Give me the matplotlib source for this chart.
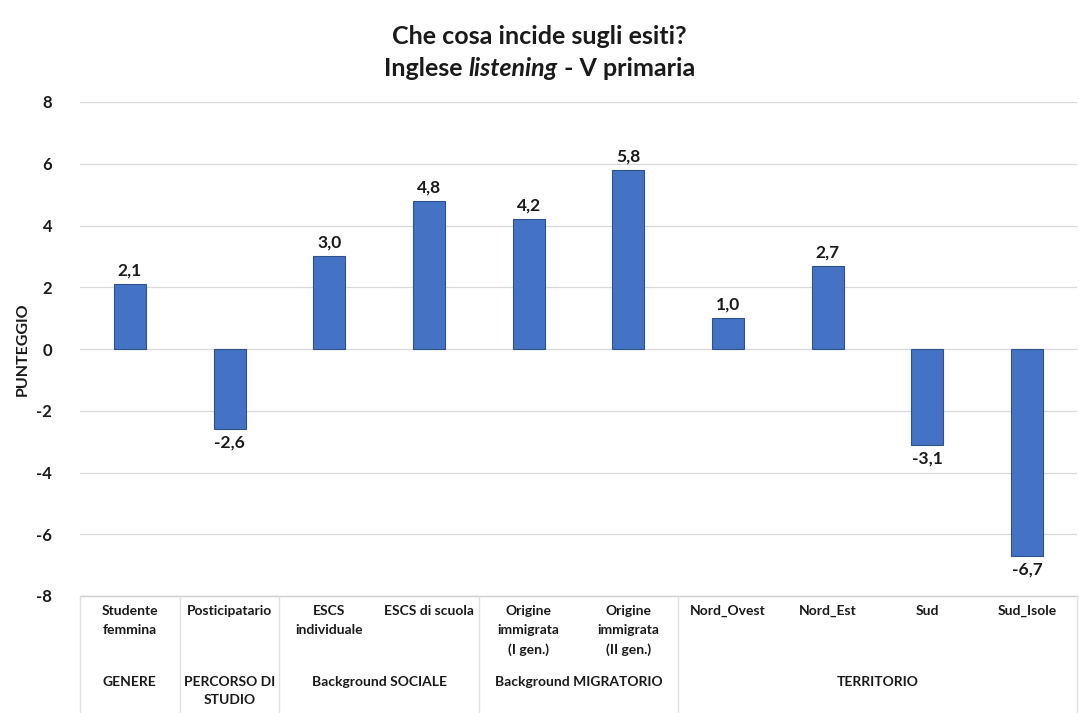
import numpy as np
import matplotlib; matplotlib.use("Agg")
import matplotlib.pyplot as plt
import matplotlib.transforms as mtransforms

# data
categories = ["Studente\nfemmina", "Posticipatario", "ESCS\nindividuale", "ESCS di scuola",
              "Origine\nimmigrata\n(I gen.)", "Origine\nimmigrata\n(II gen.)",
              "Nord_Ovest", "Nord_Est", "Sud", "Sud_Isole"]
values = [2.1, -2.6, 3.0, 4.8, 4.2, 5.8, 1.0, 2.7, -3.1, -6.7]
groups = ["GENERE", "PERCORSO DI\nSTUDIO", "Background SOCIALE", "Background MIGRATORIO", "TERRITORIO"]
group_sizes = [1, 1, 2, 2, 4]

plt.rcParams["font.family"] = ["Lato", "DejaVu Sans"]
plt.rcParams["font.weight"] = "bold"
INK = "#1a1a1a"

fig = plt.figure(figsize=(10.79, 7.13), dpi=100)
ax = fig.add_axes([80/1079, 1-596/713, 997/1079, 494/713])

x = np.arange(len(values))
ax.bar(x, values, width=0.32, color="#4472C4", edgecolor="#2F528F", linewidth=0.8, zorder=3)
for xi, v in zip(x, values):
    txt = f"{v:.1f}".replace(".", ",")
    if v >= 0:
        ax.annotate(txt, (xi, v), xytext=(0, 4), textcoords="offset points", ha="center", va="bottom",
                    fontsize=12.5, fontweight="bold", color=INK)
    else:
        ax.annotate(txt, (xi, v), xytext=(0, -4), textcoords="offset points", ha="center", va="top",
                    fontsize=12.5, fontweight="bold", color=INK)

ax.set_xlim(-0.5, len(values) - 0.5)
ax.set_ylim(-8, 8)
ax.set_yticks(np.arange(-8, 9, 2))
ax.set_yticklabels([str(t) for t in range(-8, 9, 2)], fontsize=12, fontweight="bold", color=INK)
ax.tick_params(axis="y", length=0, pad=20)
ax.set_xticks([])
ax.grid(axis="y", color="#d9d9d9", lw=0.9, zorder=0)
for s in ax.spines.values():
    s.set_visible(False)
ax.set_ylabel("PUNTEGGIO", fontsize=11.5, fontweight="bold", color=INK)
ax.yaxis.set_label_coords(-50/997, 0.5)

# category table under the axis
tr = mtransforms.blended_transform_factory(ax.transData, ax.transAxes)
tab_h = -116/494
ax.plot([-0.5, len(values) - 0.5], [0, 0], transform=tr, color="#d0d0d0", lw=1, clip_on=False)
edges = np.concatenate([[0], np.cumsum(group_sizes)]) - 0.5
for e in edges:
    ax.plot([e, e], [0, tab_h], transform=tr, color="#e0e0e0", lw=1, clip_on=False)
for xi, c in zip(x, categories):
    ax.text(xi, -9/494, c, transform=tr, ha="center", va="top", fontsize=10, fontweight="bold",
            color=INK, linespacing=1.7)
for i, g in enumerate(groups):
    cx = (edges[i] + edges[i + 1]) / 2
    ax.text(cx, -80/494, g, transform=tr, ha="center", va="top", fontsize=10, fontweight="bold",
            color=INK, linespacing=1.6)

# title with italic word
fig.text(0.5, 1 - 36/713, "Che cosa incide sugli esiti?", ha="center", va="center",
         fontsize=18, fontweight="bold", color=INK)
parts = [("Inglese ", "normal"), ("listening", "italic"), (" - V primaria", "normal")]
texts = [fig.text(0, 1 - 69/713, p, ha="left", va="center", fontsize=18, fontweight="bold",
                  style=st, color=INK) for p, st in parts]
fig.canvas.draw()
r = fig.canvas.get_renderer()
widths = [t.get_window_extent(r).width / fig.bbox.width for t in texts]
pos = 0.5 - sum(widths) / 2
for t, w in zip(texts, widths):
    t.set_x(pos)
    pos += w

fig.savefig("out.png", dpi=100)
